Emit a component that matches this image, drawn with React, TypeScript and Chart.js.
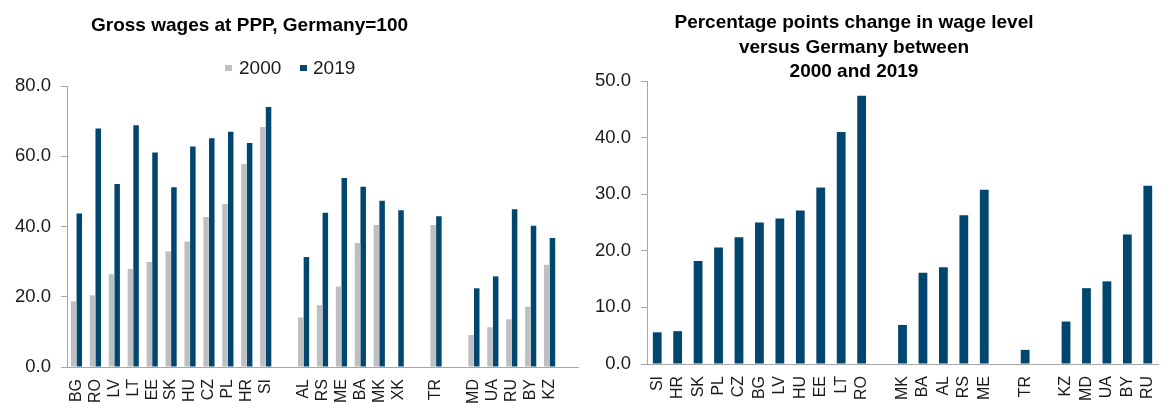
import React, { useEffect, useRef } from "react";
import { Chart, registerables } from "chart.js";

Chart.register(...registerables);

// ---------- Data ----------
const leftCategories = ["BG", "RO", "LV", "LT", "EE", "SK", "HU", "CZ", "PL", "HR", "SI", "", "AL", "RS", "ME", "BA", "MK", "XK", "", "TR", "", "MD", "UA", "RU", "BY", "KZ", ""];
const wages2000 = [18.7, 20.4, 26.4, 27.9, 29.9, 32.9, 35.7, 42.7, 46.4, 57.8, 68.3, null, 14.1, 17.6, 22.9, 35.3, 40.4, null, null, 40.4, null, 9.1, 11.3, 13.6, 17.2, 29.1, null];
const wages2019 = [43.7, 67.9, 52.1, 68.8, 61.1, 51.2, 62.8, 65.1, 67.0, 63.8, 74.0, null, 31.3, 43.9, 53.8, 51.3, 47.3, 44.6, null, 42.9, null, 22.4, 25.8, 44.9, 40.2, 36.7, null];
const leftTicks = [0, 20, 40, 60, 80];

const rightCategories = ["SI", "HR", "SK", "PL", "CZ", "BG", "LV", "HU", "EE", "LT", "RO", "", "MK", "BA", "AL", "RS", "ME", "", "TR", "", "KZ", "MD", "UA", "BY", "RU"];
const changePP = [5.6, 5.8, 18.2, 20.6, 22.4, 25.0, 25.7, 27.1, 31.2, 41.0, 47.4, null, 6.9, 16.1, 17.1, 26.3, 30.8, null, 2.5, null, 7.5, 13.4, 14.6, 22.9, 31.5];
const rightTicks = [0, 10, 20, 30, 40, 50];

const leftTitle = "Gross wages at PPP, Germany=100";
const rightTitle = ["Percentage points change in wage level", "versus Germany between", "2000 and 2019"];
const seriesNames = ["2000", "2019"];

// ---------- Styles ----------
const GREY = "#BEBFC1";
const NAVY = "#00466F";
const AXIS = "#A6A6A6";
const TEXT = "#1A1A1A";
const FONT = "'Liberation Sans', Arial, sans-serif";

function makeScales(ticks: number[], xHeight: number, yWidth: number) {
  return {
    x: {
      grid: { display: true, drawOnChartArea: false, drawTicks: false },
      border: { display: true, color: AXIS, width: 1 },
      ticks: {
        autoSkip: false,
        minRotation: 90,
        maxRotation: 90,
        padding: 12,
        color: TEXT,
        font: { family: FONT, size: 16 },
      },
      afterFit: (s: any) => {
        s.height = xHeight;
        s.paddingLeft = 0;
        s.paddingRight = 0;
      },
    },
    y: {
      min: ticks[0],
      max: ticks[ticks.length - 1],
      afterBuildTicks: (s: any) => {
        s.ticks = ticks.map((v) => ({ value: v }));
      },
      grid: { display: true, drawOnChartArea: false, drawTicks: true, tickLength: 6, color: AXIS },
      border: { display: true, color: AXIS, width: 1 },
      ticks: {
        padding: 10,
        color: TEXT,
        font: { family: FONT, size: 18.5 },
        callback: (v: any) => Number(v).toFixed(1),
      },
      afterFit: (s: any) => {
        s.width = yWidth;
      },
    },
  };
}

function ChartCanvas({ width, height, left, build }: { width: number; height: number; left: number; build: () => any }) {
  const ref = useRef<HTMLCanvasElement>(null);
  useEffect(() => {
    const chart = new Chart(ref.current as HTMLCanvasElement, build());
    return () => chart.destroy();
  }, []);
  return (
    <canvas
      ref={ref}
      width={width}
      height={height}
      style={{ position: "absolute", left, top: 0, width, height }}
    />
  );
}

function leftConfig() {
  return {
    type: "bar",
    data: {
      labels: leftCategories,
      datasets: [
        { label: seriesNames[0], data: wages2000, backgroundColor: GREY, categoryPercentage: 0.6, barPercentage: 0.97 },
        { label: seriesNames[1], data: wages2019, backgroundColor: NAVY, categoryPercentage: 0.6, barPercentage: 0.97 },
      ],
    },
    options: {
      responsive: false,
      animation: false,
      layout: { padding: { top: 86, right: 2, left: 0, bottom: 0 } },
      plugins: { legend: { display: false }, title: { display: false }, tooltip: { enabled: false } },
      scales: makeScales(leftTicks, 42, 67),
    },
  };
}

function rightConfig() {
  return {
    type: "bar",
    data: {
      labels: rightCategories,
      datasets: [
        { label: "change", data: changePP, backgroundColor: NAVY, categoryPercentage: 0.43, barPercentage: 1 },
      ],
    },
    options: {
      responsive: false,
      animation: false,
      layout: { padding: { top: 81, right: 5, left: 0, bottom: 0 } },
      plugins: { legend: { display: false }, title: { display: false }, tooltip: { enabled: false } },
      scales: makeScales(rightTicks, 45, 67),
    },
  };
}

export default function App() {
  const titleStyle: React.CSSProperties = {
    position: "absolute",
    fontFamily: FONT,
    fontWeight: "bold",
    fontSize: 19,
    lineHeight: "24.5px",
    color: "#000",
    textAlign: "center",
    whiteSpace: "nowrap",
  };
  const legendText: React.CSSProperties = {
    position: "absolute",
    top: 58,
    fontFamily: FONT,
    fontSize: 19,
    lineHeight: "19px",
    color: TEXT,
  };
  const box = (left: number, color: string): React.CSSProperties => ({
    position: "absolute",
    left,
    top: 64.5,
    width: 6.5,
    height: 6.5,
    background: color,
  });
  return (
    <div style={{ position: "absolute", left: 0, top: 0, width: 1163, height: 409, background: "#fff", overflow: "hidden" }}>
      <ChartCanvas width={580} height={409} left={0} build={leftConfig} />
      <ChartCanvas width={583} height={409} left={580} build={rightConfig} />
      <div style={{ ...titleStyle, left: 0, width: 499, top: 13 }}>{leftTitle}</div>
      <div style={{ ...titleStyle, left: 554, width: 600, top: 10 }}>
        {rightTitle.map((t, i) => (
          <div key={i}>{t}</div>
        ))}
      </div>
      <div style={box(225, GREY)} />
      <div style={{ ...legendText, left: 239 }}>{seriesNames[0]}</div>
      <div style={box(300, NAVY)} />
      <div style={{ ...legendText, left: 313 }}>{seriesNames[1]}</div>
    </div>
  );
}
